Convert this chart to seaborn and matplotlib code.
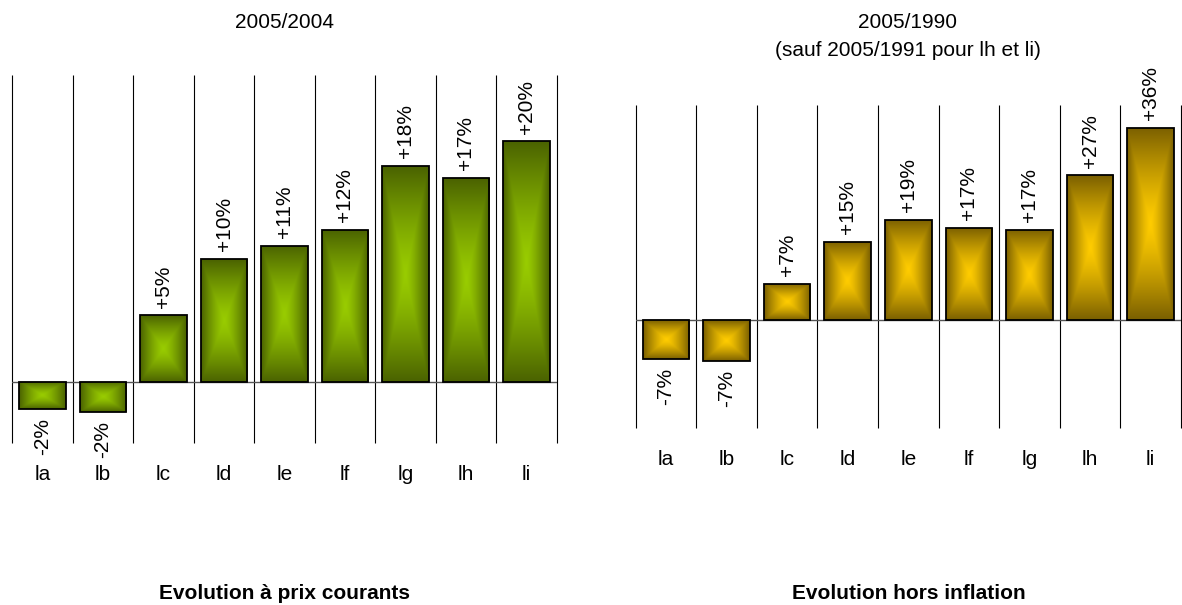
import numpy as np
import pandas as pd
import matplotlib
matplotlib.use("Agg")
import matplotlib.pyplot as plt
import seaborn as sns
from matplotlib.colors import to_rgb

# ---------------- data ----------------
categories = ["la", "lb", "lc", "ld", "le", "lf", "lg", "lh", "li"]
values_courants = [-2.25, -2.45, 5.4, 10.0, 11.1, 12.4, 17.6, 16.6, 19.6]
labels_courants = ["-2%", "-2%", "+5%", "+10%", "+11%", "+12%", "+18%", "+17%", "+20%"]
values_hors = [-7.2, -7.6, 6.8, 14.6, 18.7, 17.2, 16.8, 26.9, 35.8]
labels_hors = ["-7%", "-7%", "+7%", "+15%", "+19%", "+17%", "+17%", "+27%", "+36%"]

title_left = "2005/2004"
title_right_1 = "2005/1990"
title_right_2 = "(sauf 2005/1991 pour lh et li)"
caption_left = "Evolution à prix courants"
caption_right = "Evolution hors inflation"

# ---------------- style ----------------
sns.set_theme(style="white")
plt.rcParams['font.family'] = ['Liberation Sans', 'DejaVu Sans']
plt.rcParams['text.color'] = 'black'
plt.rcParams['xtick.color'] = 'black'
plt.rcParams['xtick.labelcolor'] = 'black'

W, H = 1182, 605
fig = plt.figure(figsize=(W / 100, H / 100), dpi=100)
fig.patch.set_facecolor("white")

ax1 = fig.add_axes([12.3 / W, (H - 443) / H, 544.4 / W, 368 / H])
ax2 = fig.add_axes([635.7 / W, (H - 427.7) / H, 545.3 / W, 322.7 / H])

FS = 15


def gradient_fill(ax, patch, edge, center):
    x0, y0 = patch.get_x(), patch.get_y()
    w, h = patch.get_width(), patch.get_height()
    ylo, yhi = min(y0, y0 + h), max(y0, y0 + h)
    nx, ny = 120, 240
    u = np.linspace(-1, 1, nx)
    v = np.linspace(-1, 1, ny)
    U, V = np.meshgrid(u, v)
    t = np.maximum(np.abs(U), np.abs(V))
    g = t ** 1.3
    e = np.array(to_rgb(edge))
    c = np.array(to_rgb(center))
    img = c[None, None, :] + (e - c)[None, None, :] * g[:, :, None]
    im = ax.imshow(img, extent=(x0, x0 + w, ylo, yhi), aspect='auto',
                   origin='lower', interpolation='bilinear', zorder=2.5)
    im.set_clip_path(patch)
    patch.set_facecolor('none')


def panel(ax, vals, labs, ylim, edge, center):
    df = pd.DataFrame({"cat": categories, "val": vals})
    sns.barplot(data=df, x="cat", y="val", ax=ax, width=0.77, color=center,
                saturation=1, edgecolor="black", linewidth=1.3, zorder=3)
    for p in list(ax.patches):
        gradient_fill(ax, p, edge, center)
    ax.set_xlim(-0.5, len(categories) - 0.5)
    ax.set_ylim(*ylim)
    ax.vlines(np.arange(-0.5, len(categories), 1.0), ylim[0], ylim[1],
              colors="black", linewidth=0.8, zorder=1, clip_on=False)
    ax.axhline(0, color="#555555", linewidth=1.0, zorder=2)
    for s in ax.spines.values():
        s.set_visible(False)
    ax.set_yticks([])
    ax.set_xlabel("")
    ax.set_ylabel("")
    ax.tick_params(axis="x", length=0, pad=22.7, labelsize=FS, labelcolor="black")
    for lab in ax.get_xticklabels():
        lab.set_verticalalignment("center")
    for i, (v, t) in enumerate(zip(vals, labs)):
        if v >= 0:
            ax.annotate(t, xy=(i, v), xytext=(0, 5.5), textcoords="offset points",
                        rotation=90, ha="center", va="bottom", fontsize=FS,
                        color="black", zorder=4)
        else:
            ax.annotate(t, xy=(i, v), xytext=(0, -6.5), textcoords="offset points",
                        rotation=90, ha="center", va="top", fontsize=FS,
                        color="black", zorder=4)


panel(ax1, values_courants, labels_courants, (-5, 25), "#4a6200", "#99cc00")
panel(ax2, values_hors, labels_hors, (-20, 40), "#7a5f00", "#ffcc00")

fig.text(285 / W, 1 - 28.3 / H, title_left, ha="center", va="baseline",
         fontsize=FS, color="black")
fig.text(907.5 / W, 1 - 28.3 / H, title_right_1, ha="center", va="baseline",
         fontsize=FS, color="black")
fig.text(907.5 / W, 1 - 55.5 / H, title_right_2, ha="center", va="baseline",
         fontsize=FS, color="black")
fig.text(284.5 / W, 1 - 599 / H, caption_left, ha="center", va="baseline",
         fontsize=FS, fontweight="bold", color="black")
fig.text(908.5 / W, 1 - 599 / H, caption_right, ha="center", va="baseline",
         fontsize=FS, fontweight="bold", color="black")

fig.savefig("out.png", dpi=100, facecolor="white")
